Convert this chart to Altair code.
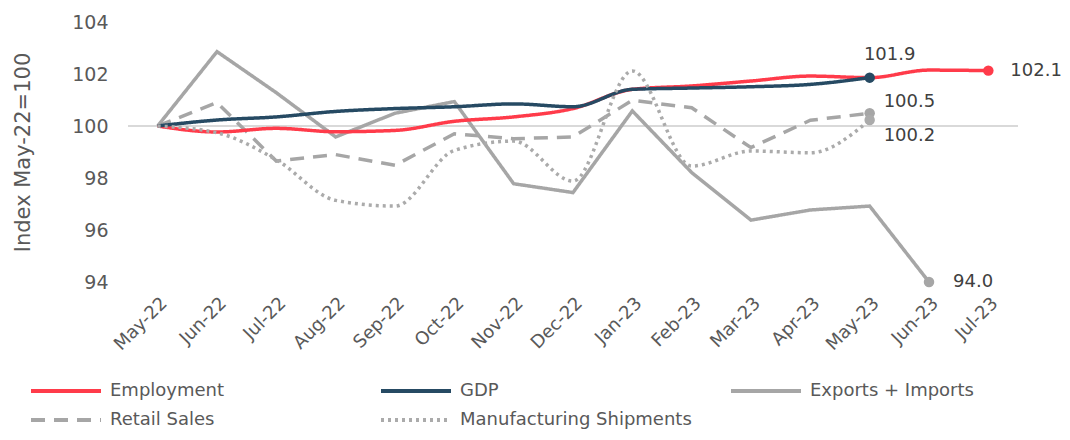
import altair as alt
import pandas as pd

months = ["May-22", "Jun-22", "Jul-22", "Aug-22", "Sep-22", "Oct-22", "Nov-22", "Dec-22",
          "Jan-23", "Feb-23", "Mar-23", "Apr-23", "May-23", "Jun-23", "Jul-23"]
series_names = ["Employment", "GDP", "Exports + Imports", "Retail Sales", "Manufacturing Shipments"]
series_colors = ["#FF3B4A", "#264A63", "#A6A6A6", "#A6A6A6", "#ABABAB"]
series_dash = [[1, 0], [1, 0], [1, 0], [14, 9], [3, 4]]

employment = [100.0, 99.77, 99.91, 99.78, 99.83, 100.18, 100.35, 100.67, 101.41, 101.54, 101.73, 101.92, 101.86, 102.15, 102.13]
gdp = [100.0, 100.23, 100.35, 100.56, 100.67, 100.74, 100.85, 100.74, 101.41, 101.46, 101.51, 101.60, 101.86, None, None]
exports_imports = [100.0, 102.86, 101.28, 99.58, 100.49, 100.94, 97.78, 97.44, 100.58, 98.21, 96.38, 96.77, 96.92, 94.0, None]
retail_sales = [100.0, 100.9, 98.65, 98.9, 98.49, 99.7, 99.51, 99.58, 100.99, 100.7, 99.17, 100.22, 100.49, None, None]
manufacturing = [100.0, 99.74, 98.7, 97.14, 96.92, 99.06, 99.42, 97.88, 102.12, 98.46, 99.04, 98.97, 100.23, None, None]

y_ticks = [94, 96, 98, 100, 102, 104]

values = [employment, gdp, exports_imports, retail_sales, manufacturing]
rows = []
for name, vals in zip(series_names, values):
    last = max(i for i, v in enumerate(vals) if v is not None)
    for i, (m, v) in enumerate(zip(months, vals)):
        if v is not None:
            rows.append({"month": m, "series": name, "value": v, "last": i == last})
df = pd.DataFrame(rows)

FONT = "DejaVu Sans"
TXT = "#595959"

x_enc = alt.X("month:O", sort=months, scale=alt.Scale(type="point", padding=0.5),
              axis=alt.Axis(title=None, labelAngle=-45, labelAlign="right", labelBaseline="top",
                            labelPadding=12, labelFontSize=18, labelColor=TXT, labelFont=FONT,
                            domain=False, ticks=False, labelOverlap=False))
y_enc = alt.Y("value:Q", scale=alt.Scale(domain=[94, 104], nice=False, zero=False),
              axis=alt.Axis(title="Index May-22=100", values=y_ticks, grid=False, domain=False, ticks=False,
                            labelFontSize=19, labelColor=TXT, labelFont=FONT, labelPadding=20,
                            titleFontSize=21, titleColor=TXT, titleFont=FONT, titleFontWeight="normal",
                            titlePadding=38))

legend_cfg = dict(title=None, orient="none", direction="horizontal", legendX=-71, legendY=360,
                  columns=3, gridAlign="all", columnPadding=31, rowPadding=11,
                  symbolType="M-5,0H5", symbolSize=196, symbolStrokeWidth=4, labelFontSize=18,
                  labelColor=TXT, labelFont=FONT, labelOffset=35, labelLimit=400)

color_scale = alt.Scale(domain=series_names, range=series_colors)
dash_scale = alt.Scale(domain=series_names, range=series_dash)
color_enc = alt.Color("series:N", scale=color_scale, legend=alt.Legend(**legend_cfg))
dash_enc = alt.StrokeDash("series:N", scale=dash_scale, legend=alt.Legend(**legend_cfg))

base = alt.Chart(df)

rule = base.mark_rule(color="#D9D9D9", strokeWidth=1.5).encode(y=alt.datum(100))

straight = base.transform_filter(
    alt.FieldOneOfPredicate(field="series", oneOf=["Exports + Imports", "Retail Sales"])
).mark_line(strokeWidth=3.5).encode(x=x_enc, y=y_enc, color=color_enc, strokeDash=dash_enc)

smooth = base.transform_filter(
    alt.FieldOneOfPredicate(field="series", oneOf=["Employment", "GDP", "Manufacturing Shipments"])
).mark_line(strokeWidth=3.5, interpolate="monotone").encode(x=x_enc, y=y_enc, color=color_enc,
                                                            strokeDash=dash_enc)

dots = base.transform_filter("datum.last").mark_circle(size=110, opacity=1).encode(
    x=alt.X("month:O", sort=months), y="value:Q",
    color=alt.Color("series:N", scale=color_scale, legend=None))


def label(series, **kw):
    return base.transform_filter(
        f"datum.last && datum.series == '{series}'"
    ).mark_text(font=FONT, fontSize=18, color="#404040", **kw).encode(
        x=alt.X("month:O", sort=months), y="value:Q",
        text=alt.Text("value:Q", format=".1f"))


labels = [
    label("Employment", align="left", baseline="middle", dx=22),
    label("GDP", align="center", baseline="middle", dx=20, dy=-23),
    label("Retail Sales", align="left", baseline="middle", dx=14, dy=-11),
    label("Manufacturing Shipments", align="left", baseline="middle", dx=14, dy=16),
    label("Exports + Imports", align="left", baseline="middle", dx=24),
]

chart = alt.layer(rule, straight, smooth, dots, *labels).properties(
    width=890, height=260,
    padding={"left": 120, "top": 14, "right": 44, "bottom": 150},
    autosize=alt.AutoSizeParams(type="none"),
).configure_view(stroke=None)

chart.save("out.html", embed_options={"renderer": "svg", "actions": False})
